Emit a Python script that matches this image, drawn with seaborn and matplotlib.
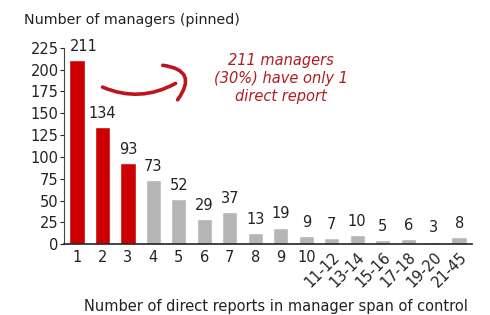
import matplotlib
matplotlib.use("Agg")
import matplotlib.pyplot as plt
import seaborn as sns
import pandas as pd
from matplotlib.patches import FancyArrowPatch

categories = ["1", "2", "3", "4", "5", "6", "7", "8", "9", "10",
              "11-12", "13-14", "15-16", "17-18", "19-20", "21-45"]
values = [211, 134, 93, 73, 52, 29, 37, 13, 19, 9, 7, 10, 5, 6, 3, 8]
highlight = [True, True, True] + [False] * 13
yticks = [0, 25, 50, 75, 100, 125, 150, 175, 200, 225]

df = pd.DataFrame({"cat": categories, "val": values,
                   "grp": ["hi" if h else "lo" for h in highlight]})

sns.set_style("white")
plt.rcParams["font.family"] = ["DejaVu Sans"]

fig = plt.figure(figsize=(4.9, 3.15), dpi=100)
ax = fig.add_axes([0.131, 0.225, 0.832, 0.623])

sns.barplot(data=df, x="cat", y="val", hue="grp",
            palette={"hi": "#cc0000", "lo": "#b5b5b5"},
            dodge=False, width=0.6, legend=False, ax=ax, saturation=1)

for i, v in enumerate(values):
    dx = 5 if i == 0 else 0
    ax.annotate(str(v), (i, v), xytext=(dx, 4.5), textcoords="offset points",
                ha="center", va="bottom", fontsize=10.5, color="#222222",
                annotation_clip=False)

ax.set_ylim(0, 225)
ax.set_xlim(-0.5, len(categories) - 0.5)
ax.set_yticks(yticks)
ax.set_yticklabels([str(t) for t in yticks], fontsize=10.5, color="#222222")
ax.tick_params(axis="y", length=3, width=0.8, pad=1, left=True)
ax.tick_params(axis="x", length=0, pad=4)
ax.set_xticks(range(len(categories)))
ax.set_xticklabels(categories, fontsize=10.5, color="#222222")
for lbl in ax.get_xticklabels()[10:]:
    lbl.set_rotation(45)
    lbl.set_ha("right")
    lbl.set_rotation_mode("anchor")

for s in ["top", "right"]:
    ax.spines[s].set_visible(False)
ax.spines["left"].set_color("#444444")
ax.spines["bottom"].set_color("#222222")
ax.spines["left"].set_linewidth(0.8)
ax.spines["bottom"].set_linewidth(1.2)

ax.set_xlabel("Number of direct reports in manager span of control",
              fontsize=10.5, color="#222222", x=0.52, labelpad=6)
ax.set_ylabel("")

fig.text(24 / 490, 1 - 20 / 315, "Number of managers (pinned)",
         fontsize=10.3, color="#222222", ha="left", va="center")

fig.text(281 / 490, 1 - 78 / 315,
         "211 managers\n(30%) have only 1\ndirect report",
         fontsize=10.5, color="#b01c22", style="italic",
         ha="center", va="center", linespacing=1.25)

stroke = FancyArrowPatch((100 / 490, 1 - 86 / 315), (178 / 490, 1 - 82 / 315),
                         transform=fig.transFigure,
                         connectionstyle="arc3,rad=0.26",
                         arrowstyle="-", color="#c0141c", lw=2.6,
                         capstyle="round")
fig.patches.append(stroke)
hook = FancyArrowPatch((160 / 490, 1 - 65 / 315), (176 / 490, 1 - 102 / 315),
                       transform=fig.transFigure,
                       connectionstyle="arc3,rad=-0.9",
                       arrowstyle="-", color="#c0141c", lw=2.6,
                       capstyle="round")
fig.patches.append(hook)

fig.savefig("out.png", dpi=100)
